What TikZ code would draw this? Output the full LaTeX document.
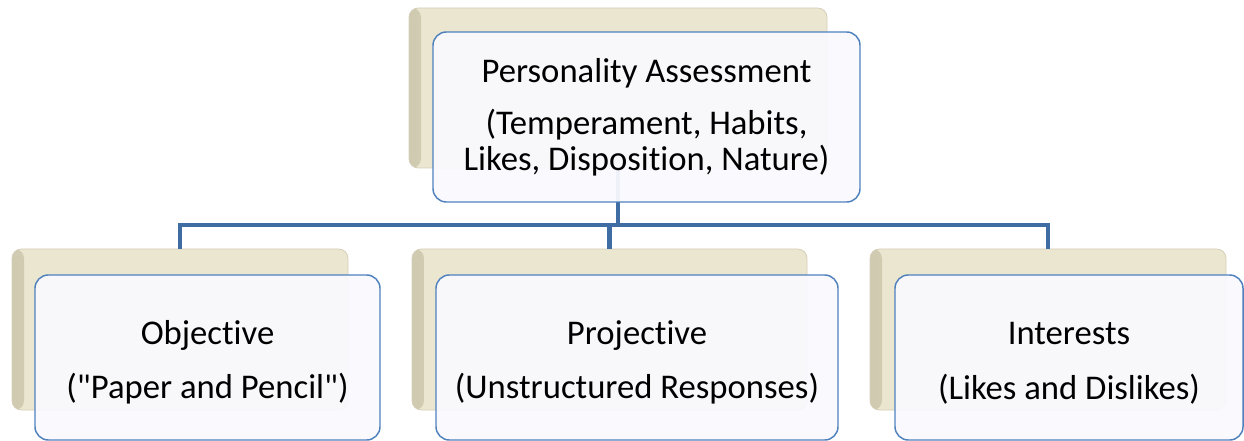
\documentclass[tikz,border=0pt]{standalone}
\usepackage{fontspec}
\setmainfont{Carlito}[Ligatures=NoCommon]
\definecolor{linkblue}{HTML}{3F6DA3}
\definecolor{boxedge}{HTML}{4F81BD}
\definecolor{boxfill}{HTML}{F9F9FE}
\definecolor{beigeface}{HTML}{EBE6CF}
\definecolor{beigedark}{HTML}{D0CAB1}
\tikzset{every picture/.style={line width=0.75pt}}
\tikzset{
  backbox/.style={rectangle, rounded corners=7pt, inner sep=0pt, outer sep=0pt,
    fill=beigeface, draw=beigedark!90, line width=0.6pt,
    path picture={\fill [left color=beigedark, right color=beigeface]
      (path picture bounding box.south west) rectangle ([xshift=9pt]path picture bounding box.north west);}},
  frontbox/.style={rectangle, rounded corners=10pt, inner sep=0pt, outer sep=0pt,
    draw=boxedge, fill=boxfill, fill opacity=0.95, text opacity=1, line width=1.1pt,
    align=center, font=\fontsize{26}{27}\selectfont},
  link/.style={draw=linkblue, line width=3.4pt}
}

\begin{document}
\begin{tikzpicture}[x=0.75pt,y=0.75pt,yscale=-1,xscale=1]
		\useasboundingbox (0,0) rectangle (1244,441);
		
		%back plates
		\node [backbox, minimum width=313.5pt, minimum height=120pt] (pab) at (618,88) {};
		\node [backbox, minimum width=252pt, minimum height=120.75pt] (ob) at (180,329.5) {};
		\node [backbox, minimum width=296.25pt, minimum height=120.75pt] (pb) at (609.5,329.5) {};
		\node [backbox, minimum width=267pt, minimum height=120.75pt] (ib) at (1048,329.5) {};
		
		%connectors
		\coordinate (bus) at (0,225);
		\draw [link] (pab.south) -- (pab.south |- bus);
		\draw [link] (ob.north) |- (bus -| ib.north) -- (ib.north);
		\draw [link] (pb.north) -- (pb.north |- bus);
		
		%front boxes
		\node [frontbox, minimum width=320.25pt, minimum height=127.5pt] (pa) at (646.5,117)
		{\raisebox{-1.5pt}{Personality Assessment}\\[13.5pt](Temperament, Habits,\\Likes, Disposition, Nature)};
		\node [frontbox, minimum width=258.75pt, minimum height=123.75pt] (obj) at (207.5,357.5)
		{\rule{0pt}{25pt}Objective\\[14pt](\textquotedbl Paper and Pencil\textquotedbl)};
		\node [frontbox, minimum width=301.5pt, minimum height=123.75pt] (proj) at (637,357.5)
		{\rule{0pt}{25pt}Projective\\[14pt](Unstructured Responses)};
		\node [frontbox, minimum width=261pt, minimum height=123.75pt] (int) at (1069,357.5)
		{\rule{0pt}{25pt}Interests\\[14pt](Likes and Dislikes)};
		
	\end{tikzpicture}
\end{document}
